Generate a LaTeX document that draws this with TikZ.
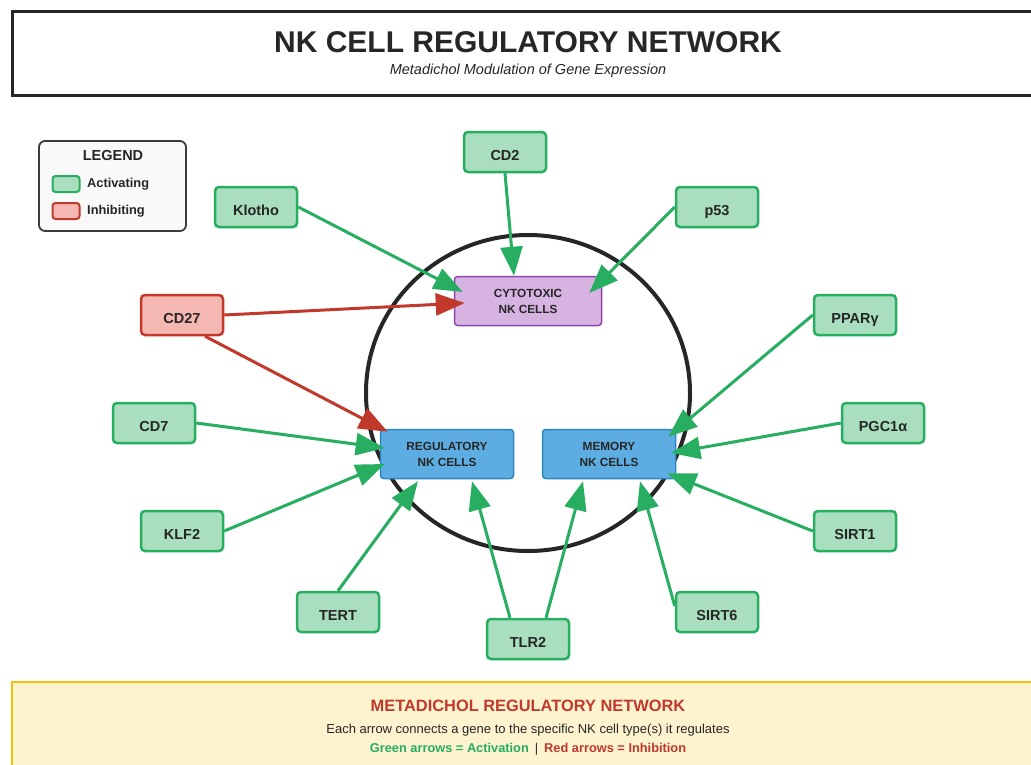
\documentclass[tikz,border=0pt]{standalone}
\usepackage{fontspec}
\setmainfont{Liberation Sans}
\usetikzlibrary{arrows.meta}
\definecolor{actgreen}{HTML}{27AE60}
\definecolor{actfill}{HTML}{A9DFBF}
\definecolor{inhred}{HTML}{C0392B}
\definecolor{inhfill}{HTML}{F5B7B1}
\definecolor{cytofill}{HTML}{D7B3E1}
\definecolor{cytodraw}{HTML}{8E44AD}
\definecolor{cellfill}{HTML}{5DADE2}
\definecolor{celldraw}{HTML}{2E86C1}
\definecolor{txtdark}{HTML}{262626}
\definecolor{notefill}{HTML}{FEF3CF}
\definecolor{notedraw}{HTML}{F4C20D}
\tikzset{
  genebox/.style={draw=actgreen, fill=actfill, line width=2.5pt, rounded corners=4pt,
    minimum width=82pt, minimum height=40pt, text=txtdark, text height=16pt, text depth=0pt,
    font=\fontsize{14.5}{17}\selectfont\bfseries},
  inhibbox/.style={genebox, draw=inhred, fill=inhfill},
  cellbox/.style={draw=celldraw, fill=cellfill, line width=1.5pt, rounded corners=3pt,
    minimum width=133pt, minimum height=49pt, align=center, text=txtdark,
    font=\fontsize{11.8}{16}\selectfont\bfseries},
  actarrow/.style={draw=actgreen, line width=3pt, -{Triangle[length=29pt,width=22pt]}},
  inharrow/.style={actarrow, draw=inhred},
  swatch/.style={line width=2pt, rounded corners=3pt, minimum width=27pt, minimum height=16pt},
}
\begin{document}
\begin{tikzpicture}[x=1pt,y=-1pt]
  \useasboundingbox (0,0) rectangle (1031,764);
  \clip (0,0) rectangle (1031,764);
  \fill[white] (0,0) rectangle (1031,764);

  % title
  \draw[draw=txtdark, line width=3pt, fill=white] (12,11) rectangle (1045,95);
  \node[text=txtdark, font=\fontsize{30}{34}\selectfont\bfseries] (title) at (528,42) {NK CELL REGULATORY NETWORK};
  \node[text=txtdark, font=\fontsize{14.5}{17}\selectfont\itshape] (subtitle) at (528,71) {Metadichol Modulation of Gene Expression};

  % legend
  \draw[draw=txtdark!90, fill=gray!5, line width=1.8pt, rounded corners=6pt] (39,141) rectangle (186,231);
  \node[text=txtdark, font=\fontsize{14.5}{17}\selectfont\bfseries] (legtitle) at (113,156) {LEGEND};
  \node[swatch, draw=actgreen, fill=actfill] (swact) at (66,184) {};
  \node[swatch, draw=inhred, fill=inhfill] (swinh) at (66,211) {};
  \node[anchor=west, inner sep=0pt, text=txtdark, font=\fontsize{12.8}{15}\selectfont\bfseries] (legact) at (87,184) {Activating};
  \node[anchor=west, inner sep=0pt, text=txtdark, font=\fontsize{12.8}{15}\selectfont\bfseries] (leginh) at (87,211) {Inhibiting};

  % ring
  \draw[line width=4pt, draw=txtdark] (528,393) ellipse [x radius=162pt, y radius=158pt];

  % cell types
  \node[cellbox, draw=cytodraw, fill=cytofill, minimum width=147pt] (cyto) at (528,301) {CYTOTOXIC\\NK CELLS};
  \node[cellbox] (reg) at (447,454) {REGULATORY\\NK CELLS};
  \node[cellbox] (mem) at (609,454) {MEMORY\\NK CELLS};

  % genes
  \node[genebox] (cd2) at (505,152) {CD2};
  \node[genebox] (klotho) at (256,207) {Klotho};
  \node[genebox] (p53) at (717,207) {p53};
  \node[inhibbox] (cd27) at (182,315) {CD27};
  \node[genebox] (ppar) at (855,315) {PPARγ};
  \node[genebox] (cd7) at (154,423) {CD7};
  \node[genebox] (pgc) at (883,423) {PGC1α};
  \node[genebox] (klf2) at (182,531) {KLF2};
  \node[genebox] (sirt1) at (855,531) {SIRT1};
  \node[genebox] (tert) at (338,612) {TERT};
  \node[genebox] (tlr2) at (528,639) {TLR2};
  \node[genebox] (sirt6) at (717,612) {SIRT6};

  % regulation
  \draw[actarrow] (cd2.south) -- ([shift={(-14,0)}]cyto.north);
  \draw[actarrow] (klotho.east) -- ([shift={(9,-9)}]cyto.west);
  \draw[actarrow] (p53.west) -- ([shift={(-13,-8)}]cyto.east);
  \draw[inharrow] (cd27.east) -- ([shift={(11,2)}]cyto.west);
  \draw[inharrow] ([shift={(23,0)}]cd27.south) -- ([shift={(8,3)}]reg.north west);
  \draw[actarrow] (cd7.east) -- ([shift={(5,-6)}]reg.west);
  \draw[actarrow] (klf2.east) -- ([shift={(5,10)}]reg.west);
  \draw[actarrow] (tert.north) -- ([shift={(-29,2)}]reg.south);
  \draw[actarrow] ([shift={(-18,0)}]tlr2.north) -- ([shift={(25,2)}]reg.south);
  \draw[actarrow] ([shift={(18,0)}]tlr2.north) -- ([shift={(-26,2)}]mem.south);
  \draw[actarrow] ([shift={(0,-6)}]sirt6.west) -- ([shift={(31,2)}]mem.south);
  \draw[actarrow] (sirt1.west) -- ([shift={(-9,-6)}]mem.south east);
  \draw[actarrow] (pgc.west) -- ([shift={(-5,-1)}]mem.east);
  \draw[actarrow] (ppar.west) -- ([shift={(-8,8)}]mem.north east);

  % note
  \draw[draw=notedraw, fill=notefill, line width=2pt] (12,682) rectangle (1045,790);
  \node[text=inhred, font=\fontsize{16.4}{19}\selectfont\bfseries] (notetitle) at (528,706) {METADICHOL REGULATORY NETWORK};
  \node[text=txtdark, font=\fontsize{13}{15}\selectfont] (noteline) at (528,730) {Each arrow connects a gene to the specific NK cell type(s) it regulates};
  \node[font=\fontsize{12.8}{15}\selectfont\bfseries] (notekey) at (528,749) {{\color{actgreen}Green arrows = Activation}\hspace{6pt}{\color{txtdark}\mdseries|}\hspace{6pt}{\color{inhred}Red arrows = Inhibition}};
\end{tikzpicture}
\end{document}
